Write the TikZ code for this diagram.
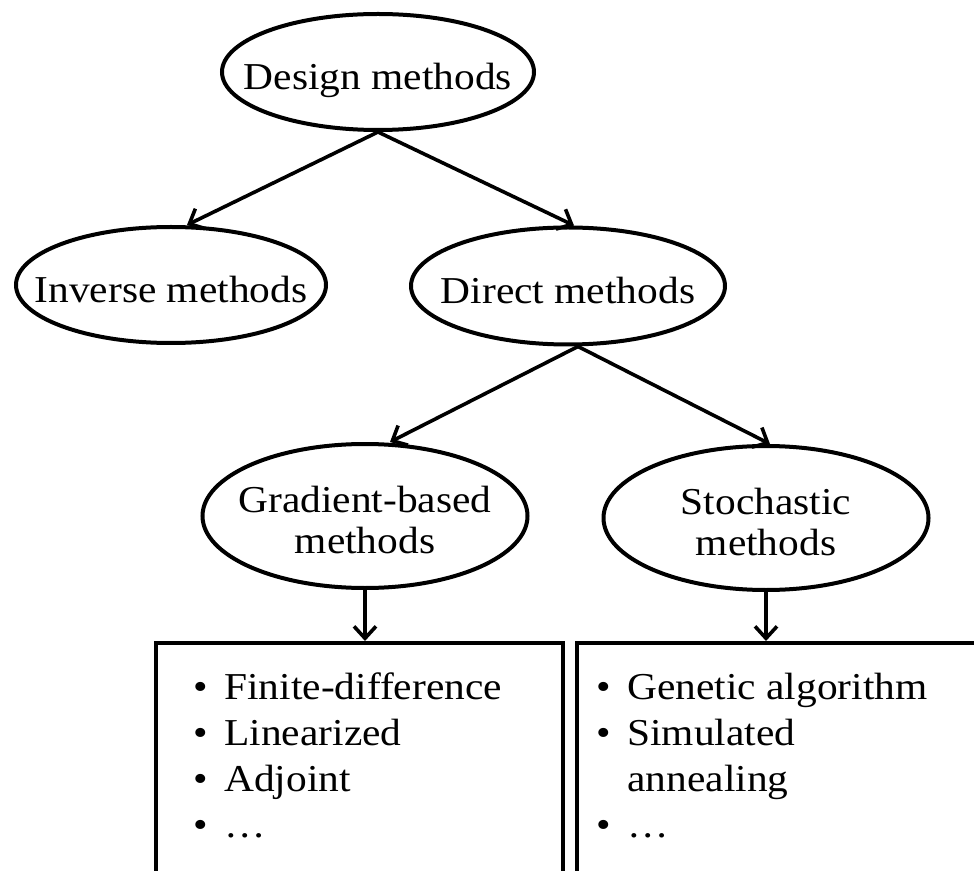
\documentclass[tikz,border=0pt]{standalone}
\usepackage{fontspec}
\setmainfont[FakeStretch=1.09]{Liberation Serif}
\usetikzlibrary{shapes.geometric,arrows.meta}
\newcommand\bitem[1]{\makebox[10pt][c]{\textbullet}\hspace{7pt}#1}
\newcommand\bcont[1]{\makebox[10pt][c]{}\hspace{7pt}#1}
\newcommand\zw[1]{\smash{\raisebox{-8.75pt}{\makebox[0pt][c]{\begin{tabular}{@{}c@{}}#1\end{tabular}}}}}
\tikzset{
  ell/.style={ellipse, draw, line width=2pt, inner sep=0pt,
    font=\fontsize{19}{20.5}\selectfont},
  arr/.style={line width=1.8pt, -{Straight Barb[length=6pt,width=11pt,line width=1.8pt]}},
  listbox/.style={rectangle, draw, line width=2.2pt, anchor=north west, inner sep=0pt},
  listtext/.style={anchor=base west, inner sep=0pt, font=\fontsize{19}{23}\selectfont}
}
\begin{document}
\begin{tikzpicture}[x=0.5pt,y=-0.5pt]
\useasboundingbox (0,0) rectangle (974,871);
\clip (0,0) rectangle (974,871);
% ellipses
\node[ell, minimum width=156pt, minimum height=58pt] (design) at (378,72) {\zw{Design methods}};
\node[ell, minimum width=155pt, minimum height=58pt] (inverse) at (171,285) {\zw{Inverse methods}};
\node[ell, minimum width=157pt, minimum height=58.5pt] (direct) at (568,286) {\zw{Direct methods}};
\node[ell, minimum width=162.5pt, minimum height=72pt] (grad) at (365,516) {\zw{Gradient-based\\methods}};
\node[ell, minimum width=162.5pt, minimum height=72pt] (stoch) at (766,518) {\zw{Stochastic\\methods}};
% boxes
\node[listbox, minimum width=203.5pt, minimum height=150pt] (gbox) at (154,641) {};
\node[listbox, minimum width=225pt, minimum height=150pt] (sbox) at (575,641) {};
\node[listtext] (gtext) at (190,699) {\begin{tabular}[t]{@{}l@{}}
\bitem{Finite-difference}\\
\bitem{Linearized}\\
\bitem{Adjoint}\\
\bitem{\dots}
\end{tabular}};
\node[listtext] (stext) at (593,699) {\begin{tabular}[t]{@{}l@{}}
\bitem{Genetic algorithm}\\
\bitem{Simulated}\\
\bcont{annealing}\\
\bitem{\dots}
\end{tabular}};
% connectors
\draw[arr] (design.south) -- ([xshift=8pt]inverse.north);
\draw[arr] (design.south) -- ([xshift=3pt]direct.north);
\draw[arr] ([xshift=5pt]direct.south) -- ([xshift=12.5pt]grad.north);
\draw[arr] ([xshift=5pt]direct.south) -- ([xshift=2pt]stoch.north);
\draw[arr] (grad.south) -- (grad.south |- gbox.north);
\draw[arr] (stoch.south) -- (stoch.south |- sbox.north);
\end{tikzpicture}
\end{document}
